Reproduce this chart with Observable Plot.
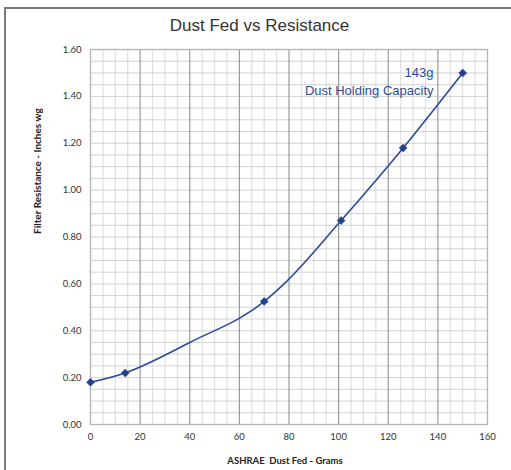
<!DOCTYPE html>
<html>
<head>
<meta charset="utf-8">
<script src="https://cdn.jsdelivr.net/npm/d3@7"></script>
<script src="https://cdn.jsdelivr.net/npm/@observablehq/plot@0.6"></script>
<style>
  html, body { margin: 0; padding: 0; background: #fff; }
  #wrap { position: relative; width: 511px; height: 470px; overflow: hidden; }
  #frame { position: absolute; left: 4px; top: 7px; width: 560px; height: 520px;
           border-left: 2px solid #7a7a7a; border-top: 2px solid #7a7a7a; }
  #title { height: 40px; line-height: 34px; text-align: center; padding-left: 8px; padding-top: 9px; box-sizing: border-box;
           font-family: "Liberation Sans", Arial, sans-serif; font-size: 17px; color: #333; }
  #chart svg { display: block; }
</style>
</head>
<body>
<div id="wrap">
  <div id="frame"></div>
  <div id="title">Dust Fed vs Resistance</div>
  <div id="chart"></div>
</div>
<script>
// Measured (marker) points
const dustFed = [0, 14, 70, 101, 126, 150];
const resistance = [0.18, 0.22, 0.525, 0.87, 1.18, 1.50];

// Curve path points (includes unmarked bends of the drawn line)
const curveDust = [0, 14, 40, 70, 78, 101, 126, 150];
const curveRes = [0.18, 0.22, 0.35, 0.525, 0.60, 0.87, 1.18, 1.50];

const xTicks = [0, 20, 40, 60, 80, 100, 120, 140, 160];
const yTicks = [0, 0.2, 0.4, 0.6, 0.8, 1.0, 1.2, 1.4, 1.6];
const xMinor = d3.range(0, 161, 5).filter(v => v % 20 !== 0);
const yMinor = d3.range(0, 33).map(i => i * 0.05);

const annotation = ["143g", "Dust Holding Capacity"];
const xLabel = "ASHRAE  Dust Fed - Grams";
const yLabel = "Filter Resistance - Inches wg";

const points = dustFed.map((d, i) => ({x: d, y: resistance[i]}));
const curve = curveDust.map((d, i) => ({x: d, y: curveRes[i]}));

const blue = "#2c4c98";
const axisFont = "Lato, 'Open Sans', sans-serif";

const chart = Plot.plot({
  width: 511,
  height: 430,
  marginLeft: 90,
  marginRight: 24,
  marginTop: 9,
  marginBottom: 46,
  style: {fontFamily: axisFont, fontSize: "9.5px", color: "#333", background: "transparent"},
  x: {domain: [0, 160]},
  y: {domain: [0, 1.6]},
  marks: [
    Plot.ruleX(xMinor, {stroke: "#e2e2e2", strokeWidth: 1.3}),
    Plot.ruleY(yMinor, {stroke: "#d2d2d2", strokeWidth: 1}),
    Plot.ruleX(xTicks.slice(1, -1), {stroke: "#9a9a9a", strokeWidth: 1.2}),
    Plot.frame({stroke: "#b4b4b4", strokeWidth: 1.3}),
    Plot.axisX(xTicks, {tickSize: 0, tickPadding: 9, label: null, fontSize: 9.5, fill: "#333"}),
    Plot.axisY(yTicks, {tickSize: 0, tickPadding: 9, label: null, tickFormat: d3.format(".2f"), fontSize: 9.5, fill: "#333"}),
    Plot.line(curve, {x: "x", y: "y", stroke: blue, strokeWidth: 1.6, curve: "monotone-x"}),
    Plot.dot(points, {x: "x", y: "y", symbol: "diamond2", r: 3.6, fill: "#22418f", stroke: "#22418f", strokeWidth: 0.5}),
    Plot.text([annotation.join("\n")], {frameAnchor: "top-right", textAnchor: "end", lineAnchor: "top",
      dx: -54, dy: 15, fontSize: 13, lineHeight: 1.38, fill: blue,
      fontFamily: "'Liberation Sans', Arial, sans-serif"}),
    Plot.text([xLabel], {frameAnchor: "bottom", dx: -4, dy: 36, lineAnchor: "middle",
      fontWeight: "bold", fontSize: 9.5, fill: "#222"}),
    Plot.text([yLabel], {frameAnchor: "left", dx: -53, dy: -3, rotate: -90, lineAnchor: "middle",
      fontWeight: "bold", fontSize: 10, fill: "#222"})
  ]
});
document.getElementById("chart").appendChild(chart);
</script>
</body>
</html>
